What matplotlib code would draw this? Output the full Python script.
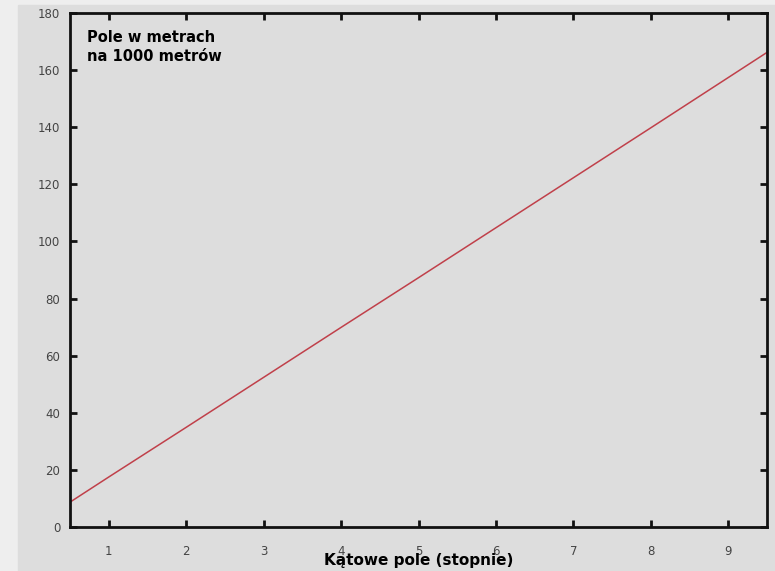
import matplotlib.pyplot as plt
from matplotlib.patches import Rectangle

# field of view (m per 1000 m) read at each angle
katy = [0.5, 1, 2, 3, 4, 5, 6, 7, 8, 9, 9.5]
pole = [8.7, 17.5, 34.9, 52.4, 69.9, 87.3, 104.8, 122.3, 139.8, 157.4, 166.2]

x_ticks = [1, 2, 3, 4, 5, 6, 7, 8, 9]
y_ticks = [0, 20, 40, 60, 80, 100, 120, 140, 160, 180]

fig = plt.figure(figsize=(7.75, 5.71), dpi=100, facecolor="#eeeeee")
fig.patches.append(Rectangle((18 / 775, 0), 1 - 18 / 775, 1 - 5 / 571,
                             transform=fig.transFigure, color="#dddddd", zorder=-10))

ax = fig.add_axes([70 / 775, 1 - 527 / 571, 697 / 775, 514 / 571])
ax.set_facecolor("#dddddd")

ax.plot(katy, pole, color="#c0404a", lw=1.1)

ax.set_xlim(0.5, 9.5)
ax.set_ylim(0, 180)
ax.set_xticks(x_ticks)
ax.set_yticks(y_ticks)

for s in ax.spines.values():
    s.set_linewidth(2)
    s.set_color("#111111")

ax.tick_params(axis="both", direction="in", length=5, width=2, color="#111111",
               labelsize=8.5, labelcolor="#444444", top=True, right=True)
ax.tick_params(axis="x", pad=13)
ax.tick_params(axis="y", pad=7)

ax.set_xlabel("Kątowe pole (stopnie)", fontsize=11, fontweight="bold", labelpad=-4)
ax.text(0.024, 0.967, "Pole w metrach\nna 1000 metrów", transform=ax.transAxes,
        fontsize=10.5, fontweight="bold", va="top", ha="left", linespacing=1.35)

fig.savefig("out.png", dpi=100, facecolor=fig.get_facecolor())
